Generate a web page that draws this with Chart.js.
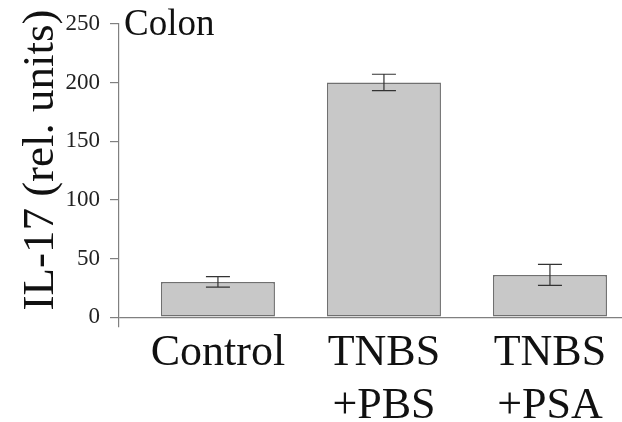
<!DOCTYPE html>
<html>
<head>
<meta charset="utf-8">
<script src="https://cdn.jsdelivr.net/npm/chart.js@4.4.0/dist/chart.umd.min.js"></script>
<style>
  html, body { margin: 0; padding: 0; background: #fff; }
  #wrap { width: 622px; height: 422px; }
</style>
</head>
<body>
<div id="wrap"><canvas id="chart"></canvas></div>
<script>
// Chart data
const categories = [['Control'], ['TNBS', '+PBS'], ['TNBS', '+PSA']];
const positions = [0, 1, 2];
const values = [30, 200, 36];
const errors = [4.5, 7, 9];
const yTicks = [0, 50, 100, 150, 200, 250];
const yTitle = 'IL-17 (rel. units)';
const panelTitle = 'Colon';

const serif = '"Liberation Serif", "DejaVu Serif", serif';

// error bars + text labels
const extras = {
  id: 'extras',
  afterDatasetsDraw(chart) {
    const ctx = chart.ctx;
    const y = chart.scales.y;
    const meta = chart.getDatasetMeta(0);
    ctx.save();
    ctx.strokeStyle = '#333';
    ctx.lineWidth = 1.2;
    meta.data.forEach((bar, i) => {
      const top = y.getPixelForValue(values[i] + errors[i]);
      const bot = y.getPixelForValue(values[i] - errors[i]);
      ctx.beginPath();
      ctx.moveTo(bar.x, top); ctx.lineTo(bar.x, bot);
      ctx.moveTo(bar.x - 12, top); ctx.lineTo(bar.x + 12, top);
      ctx.moveTo(bar.x - 12, bot); ctx.lineTo(bar.x + 12, bot);
      ctx.stroke();
    });
    ctx.restore();
  },
  afterDraw(chart) {
    const ctx = chart.ctx;
    const area = chart.chartArea;
    ctx.save();
    ctx.fillStyle = '#111';
    ctx.font = '37px ' + serif;
    ctx.textAlign = 'left';
    ctx.textBaseline = 'alphabetic';
    ctx.fillText(panelTitle, area.left + 5, 35);

    ctx.translate(53, 160);
    ctx.rotate(-Math.PI / 2);
    ctx.font = '45px ' + serif;
    ctx.textAlign = 'center';
    ctx.fillText(yTitle, 0, 0);
    ctx.restore();
  }
};

const ctx = document.getElementById('chart').getContext('2d');
new Chart(ctx, {
  type: 'bar',
  data: {
    datasets: [{
      data: positions.map((p, i) => ({ x: p, y: values[i] })),
      backgroundColor: '#c8c8c8',
      borderColor: '#707070',
      borderWidth: 1.5,
      borderSkipped: false,
      categoryPercentage: 1,
      barPercentage: 0.687,
    }],
  },
  options: {
    responsive: true,
    maintainAspectRatio: false,
    animation: false,
    layout: { padding: { top: 19, right: 0, bottom: 0, left: 0 } },
    plugins: { legend: { display: false }, tooltip: { enabled: false } },
    scales: {
      x: {
        type: 'linear',
        offset: false,
        min: -0.596,
        max: 2.434,
        grid: { display: false },
        border: { display: false },
        afterBuildTicks: s => { s.ticks = positions.map(v => ({ value: v })); },
        afterFit: s => { s.height = 95; },
        ticks: {
          autoSkip: false,
          maxRotation: 0,
          padding: -8,
          color: '#111',
          font: { family: serif, size: 44, lineHeight: 1.2 },
          callback: v => categories[positions.indexOf(v)],
        },
      },
      y: {
        min: -8.4,
        max: 250,
        afterBuildTicks: s => { s.ticks = yTicks.map(v => ({ value: v })); },
        afterFit: s => { s.width = 119; },
        border: { color: '#808080', width: 1.2 },
        grid: {
          drawOnChartArea: true,
          color: c => (c.tick && c.tick.value === 0 ? '#808080' : 'transparent'),
          tickColor: '#808080',
          tickLength: 9,
          lineWidth: 1.2,
        },
        ticks: {
          padding: 10,
          color: '#222',
          font: { family: serif, size: 23 },
        },
      },
    },
  },
  plugins: [extras],
});
</script>
</body>
</html>
